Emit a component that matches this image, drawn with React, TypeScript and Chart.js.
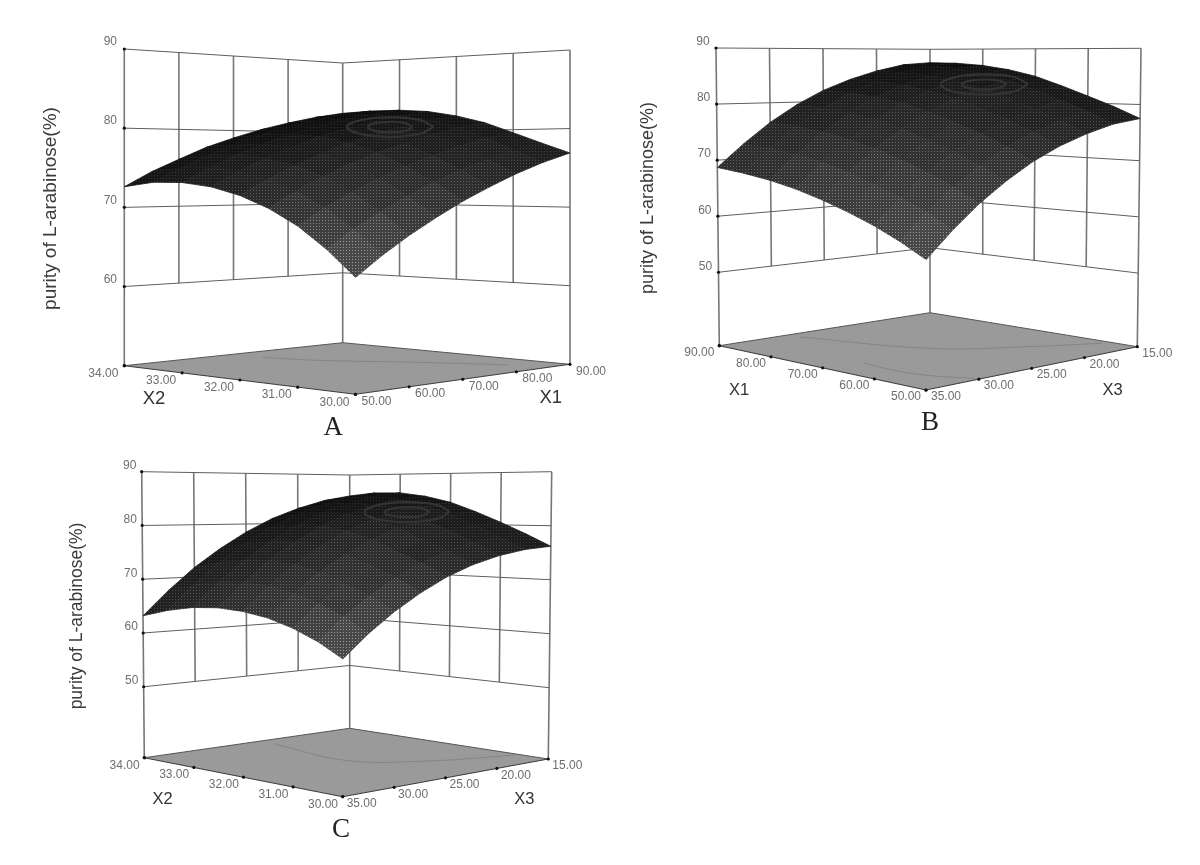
import React, { useEffect, useRef } from "react";
import { Chart, registerables } from "chart.js";

Chart.register(...registerables);

// ---------- data ----------
const Z_TITLE = "purity of L-arabinose(%)";

const A_X1_TICKS = [50, 60, 70, 80, 90];
const A_X2_TICKS = [30, 31, 32, 33, 34];
const A_Z_TICKS = [60, 70, 80, 90];
const A_X1_GRID = [50, 55, 60, 65, 70, 75, 80, 85, 90];
const A_X2_GRID = [30, 30.5, 31, 31.5, 32, 32.5, 33, 33.5, 34];
const A_SURFACE = [
  [63.3, 65.6, 67.7, 69.6, 71.4, 73.0, 74.5, 75.8, 76.9],
  [66.3, 68.4, 70.3, 72.0, 73.6, 75.0, 76.2, 77.3, 78.2],
  [68.8, 70.8, 72.5, 74.1, 75.5, 76.8, 77.9, 78.9, 79.6],
  [70.7, 72.6, 74.3, 75.8, 77.2, 78.3, 79.4, 80.3, 81.0],
  [72.1, 73.9, 75.6, 77.0, 78.4, 79.5, 80.5, 81.4, 82.0],
  [73.0, 74.8, 76.4, 77.8, 79.2, 80.3, 81.3, 82.1, 82.7],
  [73.4, 75.2, 76.8, 78.2, 79.5, 80.6, 81.6, 82.4, 83.0],
  [73.3, 75.1, 76.7, 78.1, 79.5, 80.6, 81.6, 82.4, 83.0],
  [72.6, 74.5, 76.1, 77.7, 79.0, 80.2, 81.2, 82.1, 82.8],
];
const A_CONTOURS = [
  [[70, 33.48], [72, 32.88], [74.8, 32.4], [78.8, 31.8], [84.8, 30.6]],
];
const A_RINGS = [
  [[84, 32.2, 80.5], [83.4, 32.26, 81], [82, 32.4, 81.2], [80.6, 32.54, 81], [80, 32.6, 80.5], [80.6, 32.54, 80], [82, 32.4, 79.8], [83.4, 32.26, 80], [84, 32.2, 80.5]],
  [[85.9, 32.01, 80.5], [84.7, 32.13, 81.4], [82, 32.4, 81.8], [79.3, 32.67, 81.4], [78.1, 32.79, 80.5], [79.3, 32.67, 79.6], [82, 32.4, 79.2], [84.7, 32.13, 79.6], [85.9, 32.01, 80.5]],
];

const B_X3_TICKS = [35, 30, 25, 20, 15];
const B_X1_TICKS = [50, 60, 70, 80, 90];
const B_Z_TICKS = [50, 60, 70, 80, 90];
const B_X3_GRID = [35, 32.5, 30, 27.5, 25, 22.5, 20, 17.5, 15];
const B_X1_GRID = [50, 55, 60, 65, 70, 75, 80, 85, 90];
const B_SURFACE = [
  [57.7, 61.9, 65.7, 68.9, 71.7, 73.9, 75.6, 76.9, 77.5],
  [60.0, 64.2, 67.9, 71.1, 73.9, 76.0, 77.7, 79.0, 79.5],
  [62.0, 66.1, 69.9, 73.0, 75.8, 77.9, 79.5, 80.8, 81.3],
  [63.7, 67.8, 71.6, 74.7, 77.5, 79.6, 81.3, 82.5, 83.1],
  [65.2, 69.4, 73.2, 76.3, 79.1, 81.3, 83.0, 84.2, 84.8],
  [66.5, 70.7, 74.4, 77.6, 80.4, 82.5, 84.2, 85.4, 86.0],
  [67.5, 71.6, 75.4, 78.5, 81.3, 83.4, 85.0, 86.3, 86.8],
  [68.2, 72.3, 76.0, 79.1, 81.8, 83.9, 85.5, 86.7, 87.2],
  [68.7, 72.7, 76.4, 79.5, 82.1, 84.1, 85.7, 86.9, 87.3],
];
const B_CONTOURS = [
  [[28.4, 88], [24.8, 70], [19.4, 60.8], [15.6, 55.6]],
  [[31.7, 68.8], [32, 62], [31.4, 56], [30, 50.8]],
];
const B_RINGS = [
  [[16.95, 71.5, 83.4], [17.25, 72.1, 84.06], [18, 73.6, 84.34], [18.75, 75.1, 84.06], [19.05, 75.7, 83.4], [18.75, 75.1, 82.74], [18, 73.6, 82.46], [17.25, 72.1, 82.74], [16.95, 71.5, 83.4]],
  [[15.94, 69.5, 83.4], [16.56, 70.7, 84.72], [18, 73.6, 85.28], [19.44, 76.5, 84.72], [20.06, 77.7, 83.4], [19.44, 76.5, 82.08], [18, 73.6, 81.52], [16.56, 70.7, 82.08], [15.94, 69.5, 83.4]],
];

const C_X3_TICKS = [35, 30, 25, 20, 15];
const C_X2_TICKS = [30, 31, 32, 33, 34];
const C_Z_TICKS = [50, 60, 70, 80, 90];
const C_X3_GRID = [35, 32.5, 30, 27.5, 25, 22.5, 20, 17.5, 15];
const C_X2_GRID = [30, 30.5, 31, 31.5, 32, 32.5, 33, 33.5, 34];
const C_SURFACE = [
  [59.7, 63.5, 66.8, 69.6, 72.0, 73.8, 75.1, 75.9, 76.2],
  [62.1, 65.9, 69.1, 71.9, 74.2, 76.0, 77.3, 78.0, 78.4],
  [63.9, 67.7, 70.9, 73.7, 76.0, 77.8, 79.4, 80.1, 80.5],
  [65.2, 69.1, 72.6, 75.5, 78.0, 79.9, 81.2, 82.1, 82.5],
  [65.9, 70.0, 73.6, 76.7, 79.4, 81.4, 82.9, 83.8, 84.3],
  [66.1, 70.3, 74.1, 77.3, 80.1, 82.3, 84.0, 85.0, 85.5],
  [65.7, 70.0, 73.8, 77.1, 80.0, 82.4, 84.2, 85.5, 86.2],
  [64.7, 69.1, 73.1, 76.5, 79.5, 81.9, 83.9, 85.3, 86.2],
  [63.2, 67.7, 71.8, 75.3, 78.4, 81.0, 83.0, 84.6, 85.6],
];
const C_CONTOURS = [
  [[23.8, 33.72], [25, 32], [21.2, 31.16], [15.4, 30.6]],
];
const C_RINGS = [
  [[16.91, 32.02, 82.5], [17.24, 32.09, 83.19], [18, 32.24, 83.48], [18.76, 32.39, 83.19], [19.09, 32.46, 82.5], [18.76, 32.39, 81.81], [18, 32.24, 81.52], [17.24, 32.09, 81.81], [16.91, 32.02, 82.5]],
  [[15.92, 31.82, 82.5], [16.54, 31.95, 83.87], [18, 32.24, 84.45], [19.46, 32.53, 83.87], [20.08, 32.66, 82.5], [19.46, 32.53, 81.13], [18, 32.24, 80.55], [16.54, 31.95, 81.13], [15.92, 31.82, 82.5]],
];

// ---------- layout of each panel ----------
type Pt = [number, number];
type PanelCfg = {
  frame: { left: number; top: number; width: number; height: number };
  base: { F: Pt; R: Pt; L: Pt; B: Pt };
  roof: { F: Pt; R: Pt; L: Pt; B: Pt };
  zMin: number;
  zMax: number;
  rightName: string;
  leftName: string;
  rightTicks: number[];
  leftTicks: number[];
  zTicks: number[];
  rightGrid: number[];
  leftGrid: number[];
  surface: number[][];
  contours: number[][][];
  rings: number[][][];
  leftOffset: Pt;
  rightOffset: Pt;
  zOffset: Pt;
  rightNamePos: Pt;
  leftNamePos: Pt;
  nameSize: number;
  titlePos: Pt;
  titleSize: number;
  letter: string;
  letterPos: Pt;
};

const PANELS: PanelCfg[] = [
  {
    frame: { left: 0, top: 0, width: 612, height: 445 },
    base: { F: [355.5, 394.3], R: [570, 364.3], L: [124.3, 365.7], B: [342.7, 342.7] },
    roof: { F: [355.5, 43], R: [570, 50], L: [124.3, 49], B: [342.7, 63] },
    zMin: 50, zMax: 90,
    rightName: "X1", leftName: "X2",
    rightTicks: A_X1_TICKS, leftTicks: A_X2_TICKS, zTicks: A_Z_TICKS,
    rightGrid: A_X1_GRID, leftGrid: A_X2_GRID, surface: A_SURFACE,
    contours: A_CONTOURS, rings: A_RINGS,
    leftOffset: [-21, 8], rightOffset: [21, 7.3], zOffset: [-14, -7],
    rightNamePos: [550.7, 397.7], leftNamePos: [154, 399.3], nameSize: 18.5,
    titlePos: [50.7, 208.5], titleSize: 19, letter: "A", letterPos: [333.3, 428],
  },
  {
    frame: { left: 612, top: 0, width: 588, height: 445 },
    base: { F: [926, 390], R: [1137.3, 346.7], L: [719.3, 345.7], B: [930, 312.7] },
    roof: { F: [926.4, 57.3], R: [1141, 48.3], L: [716, 48], B: [930, 49.3] },
    zMin: 36.9, zMax: 90,
    rightName: "X3", leftName: "X1",
    rightTicks: B_X3_TICKS, leftTicks: B_X1_TICKS, zTicks: B_Z_TICKS,
    rightGrid: B_X3_GRID, leftGrid: B_X1_GRID, surface: B_SURFACE,
    contours: B_CONTOURS, rings: B_RINGS,
    leftOffset: [-20, 6.8], rightOffset: [20, 6.8], zOffset: [-13, -6],
    rightNamePos: [1112.7, 390.7], leftNamePos: [739, 390.7], nameSize: 16.5,
    titlePos: [648, 198], titleSize: 18, letter: "B", letterPos: [930, 423],
  },
  {
    frame: { left: 0, top: 445, width: 612, height: 420 },
    base: { F: [342.7, 796.7], R: [548.3, 759], L: [144.3, 757.7], B: [349.7, 728.3] },
    roof: { F: [343, 476.7], R: [551.7, 471.7], L: [141.7, 471.7], B: [349.7, 475] },
    zMin: 36.8, zMax: 90,
    rightName: "X3", leftName: "X2",
    rightTicks: C_X3_TICKS, leftTicks: C_X2_TICKS, zTicks: C_Z_TICKS,
    rightGrid: C_X3_GRID, leftGrid: C_X2_GRID, surface: C_SURFACE,
    contours: C_CONTOURS, rings: C_RINGS,
    leftOffset: [-19.7, 7.7], rightOffset: [19, 7], zOffset: [-12, -6],
    rightNamePos: [524.3, 799], leftNamePos: [162.7, 799], nameSize: 16.5,
    titlePos: [76.7, 616], titleSize: 17.5, letter: "C", letterPos: [341, 829.5],
  },
];

const FONT = '"Liberation Sans", Arial, sans-serif';
const SERIF = '"Liberation Serif", "Times New Roman", serif';

function makeProjector(p: PanelCfg) {
  const rs = p.rightGrid[0], re = p.rightGrid[p.rightGrid.length - 1];
  const ls = p.leftGrid[0], le = p.leftGrid[p.leftGrid.length - 1];
  const bil = (q: { F: Pt; R: Pt; L: Pt; B: Pt }, s: number, t: number, k: 0 | 1) =>
    q.F[k] * (1 - s) * (1 - t) + q.R[k] * s * (1 - t) + q.L[k] * (1 - s) * t + q.B[k] * s * t;
  return (right: number, left: number, z: number) => {
    const s = (right - rs) / (re - rs);
    const t = (left - ls) / (le - ls);
    const w = (z - p.zMin) / (p.zMax - p.zMin);
    return {
      x: bil(p.base, s, t, 0) * (1 - w) + bil(p.roof, s, t, 0) * w,
      y: bil(p.base, s, t, 1) * (1 - w) + bil(p.roof, s, t, 1) * w,
    };
  };
}

function makeTexture(ctx: CanvasRenderingContext2D, g: number) {
  const tile = document.createElement("canvas");
  tile.width = 3;
  tile.height = 3;
  const c = tile.getContext("2d")!;
  const dark = Math.round(g * 0.8);
  const light = Math.min(255, Math.round(g * 1.75));
  c.fillStyle = `rgb(${dark},${dark},${dark})`;
  c.fillRect(0, 0, 3, 3);
  c.fillStyle = `rgb(${light},${light},${light})`;
  c.fillRect(1, 1, 1, 1);
  return ctx.createPattern(tile, "repeat")!;
}

function buildDatasets(p: PanelCfg, ctx: CanvasRenderingContext2D) {
  const proj = makeProjector(p);
  const rFirst = p.rightGrid[0], rLast = p.rightGrid[p.rightGrid.length - 1];
  const lFirst = p.leftGrid[0], lLast = p.leftGrid[p.leftGrid.length - 1];
  const zLow = p.zTicks[0];
  const line = (data: { x: number; y: number }[], color: string, width: number, extra: object = {}) => ({
    type: "scatter" as const,
    data,
    showLine: true,
    borderColor: color,
    borderWidth: width,
    pointRadius: 0,
    tension: 0,
    fill: false,
    clip: false,
    ...extra,
  });

  // surface cells, nearest first: Chart.js paints the first dataset last
  const cells: { i: number; j: number; pts: { x: number; y: number }[]; area: number }[] = [];
  const Z = p.surface;
  for (let j = 0; j < Z.length - 1; j++) {
    for (let i = 0; i < Z[j].length - 1; i++) {
      const a = proj(p.rightGrid[i], p.leftGrid[j], Z[j][i]);
      const b = proj(p.rightGrid[i + 1], p.leftGrid[j], Z[j][i + 1]);
      const c = proj(p.rightGrid[i + 1], p.leftGrid[j + 1], Z[j + 1][i + 1]);
      const d = proj(p.rightGrid[i], p.leftGrid[j + 1], Z[j + 1][i]);
      const area = Math.abs((c.x - a.x) * (d.y - b.y) - (c.y - a.y) * (d.x - b.x)) / 2;
      cells.push({ i, j, pts: [a, b, c, d, a], area });
    }
  }
  cells.sort((m, n) => m.i + m.j - (n.i + n.j));
  const maxArea = Math.max(...cells.map((c) => c.area));
  const textures = new Map<number, CanvasPattern>();
  const cellSets = cells.map((c) => {
    const raw = 14 + 76 * Math.pow(c.area / maxArea, 1.25);
    const g = Math.round(raw / 3) * 3;
    if (!textures.has(g)) textures.set(g, makeTexture(ctx, g));
    const tex = textures.get(g)!;
    return line(c.pts, tex as unknown as string, 0.8, { fill: "shape", backgroundColor: tex });
  });

  const rings = p.rings.map((r) =>
    line(r.map(([a, b, z]) => proj(a, b, z)), "#333333", 2.2, { tension: 0.4 })
  );

  const tickDots = [
    ...p.zTicks.map((z) => proj(rFirst, lLast, z)),
    proj(rFirst, lLast, p.zMin),
    ...p.leftTicks.map((v) => proj(rFirst, v, p.zMin)),
    ...p.rightTicks.map((v) => proj(v, lFirst, p.zMin)),
  ];
  const dots = {
    type: "scatter" as const,
    data: tickDots,
    pointRadius: 1.6,
    pointBackgroundColor: "#111",
    pointBorderWidth: 0,
    clip: false,
  };

  const floorEdges = [
    line([proj(rFirst, lLast, p.zMin), proj(rFirst, lFirst, p.zMin), proj(rLast, lFirst, p.zMin)], "#3c3c3c", 1.1),
    line([proj(rFirst, lLast, p.zMin), proj(rLast, lLast, p.zMin), proj(rLast, lFirst, p.zMin)], "#555", 1),
  ];
  const floor = line(
    [proj(rFirst, lFirst, p.zMin), proj(rLast, lFirst, p.zMin), proj(rLast, lLast, p.zMin), proj(rFirst, lLast, p.zMin), proj(rFirst, lFirst, p.zMin)],
    "rgba(0,0,0,0)", 0, { fill: "shape", backgroundColor: "#9a9a9a" }
  );
  const contours = p.contours.map((c) =>
    line(c.map(([a, b]) => proj(a, b, p.zMin)), "#858585", 1, { tension: 0.4 })
  );

  const walls: object[] = [];
  const GRID_H = "#5e5e5e";
  const GRID_V = "#777";
  for (const z of p.zTicks) {
    walls.push(line([proj(rFirst, lLast, z), proj(rLast, lLast, z), proj(rLast, lFirst, z)], GRID_H, 1));
  }
  walls.push(line([proj(rFirst, lLast, p.zMin), proj(rFirst, lLast, p.zMax)], GRID_V, 1.6));
  walls.push(line([proj(rLast, lLast, p.zMin), proj(rLast, lLast, p.zMax)], GRID_V, 1.6));
  walls.push(line([proj(rLast, lFirst, p.zMin), proj(rLast, lFirst, p.zMax)], GRID_V, 1.6));
  for (const v of p.rightTicks) {
    if (v !== rFirst && v !== rLast) walls.push(line([proj(v, lLast, zLow), proj(v, lLast, p.zMax)], GRID_V, 1.6));
  }
  for (const v of p.leftTicks) {
    if (v !== lFirst && v !== lLast) walls.push(line([proj(rLast, v, zLow), proj(rLast, v, p.zMax)], GRID_V, 1.6));
  }

  return [dots, ...rings, ...cellSets, ...floorEdges, ...contours, floor, ...walls];
}

function labelPlugin(p: PanelCfg) {
  const proj = makeProjector(p);
  const rFirst = p.rightGrid[0];
  const lFirst = p.leftGrid[0];
  const lLast = p.leftGrid[p.leftGrid.length - 1];
  return {
    id: "labels3d",
    afterDraw(chart: Chart) {
      const ctx = chart.ctx;
      const sx = chart.scales.x;
      const sy = chart.scales.y;
      const put = (text: string, x: number, y: number, font: string, color: string) => {
        ctx.font = font;
        ctx.fillStyle = color;
        ctx.fillText(text, sx.getPixelForValue(x), sy.getPixelForValue(y));
      };
      ctx.save();
      ctx.textAlign = "center";
      ctx.textBaseline = "middle";
      const tickFont = `12px ${FONT}`;
      const tickColor = "#6e6e6e";
      for (const z of p.zTicks) {
        const q = proj(rFirst, lLast, z);
        put(String(z), q.x + p.zOffset[0], q.y + p.zOffset[1], tickFont, tickColor);
      }
      for (const v of p.leftTicks) {
        const q = proj(rFirst, v, p.zMin);
        put(v.toFixed(2), q.x + p.leftOffset[0], q.y + p.leftOffset[1], tickFont, tickColor);
      }
      for (const v of p.rightTicks) {
        const q = proj(v, lFirst, p.zMin);
        put(v.toFixed(2), q.x + p.rightOffset[0], q.y + p.rightOffset[1], tickFont, tickColor);
      }
      const nameFont = `${p.nameSize}px ${FONT}`;
      put(p.leftName, p.leftNamePos[0], p.leftNamePos[1], nameFont, "#333");
      put(p.rightName, p.rightNamePos[0], p.rightNamePos[1], nameFont, "#333");
      put(p.letter, p.letterPos[0], p.letterPos[1], `27px ${SERIF}`, "#222");
      ctx.translate(sx.getPixelForValue(p.titlePos[0]), sy.getPixelForValue(p.titlePos[1]));
      ctx.rotate(-Math.PI / 2);
      ctx.font = `${p.titleSize}px ${FONT}`;
      ctx.fillStyle = "#3a3a3a";
      ctx.fillText(Z_TITLE, 0, 0);
      ctx.restore();
    },
  };
}

function Panel({ cfg }: { cfg: PanelCfg }) {
  const ref = useRef<HTMLCanvasElement>(null);
  useEffect(() => {
    const canvas = ref.current!;
    const ctx = canvas.getContext("2d")!;
    const { left, top, width, height } = cfg.frame;
    const chart = new Chart(canvas, {
      type: "scatter",
      data: { datasets: buildDatasets(cfg, ctx) as any },
      options: {
        animation: false,
        responsive: false,
        events: [],
        layout: { padding: 0, autoPadding: false },
        plugins: { legend: { display: false }, tooltip: { enabled: false } },
        scales: {
          x: { type: "linear", display: false, min: left, max: left + width },
          y: { type: "linear", display: false, min: top, max: top + height, reverse: true },
        },
      },
      plugins: [labelPlugin(cfg)],
    });
    return () => chart.destroy();
  }, [cfg]);
  const { left, top, width, height } = cfg.frame;
  return (
    <canvas
      ref={ref}
      width={width}
      height={height}
      style={{ position: "absolute", left, top, width, height, display: "block", filter: "blur(0.45px)" }}
    />
  );
}

export default function App() {
  return (
    <div style={{ position: "absolute", left: 0, top: 0, width: 1200, height: 865, background: "#fff", overflow: "hidden" }}>
      {PANELS.map((p) => (
        <Panel key={p.letter} cfg={p} />
      ))}
    </div>
  );
}
